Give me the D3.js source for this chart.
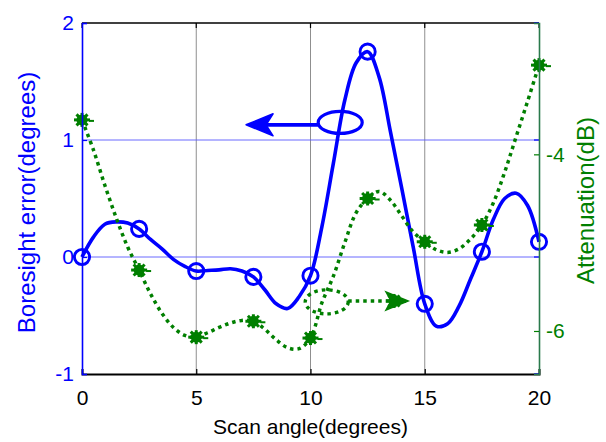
<!DOCTYPE html>
<html>
<head>
<meta charset="utf-8">
<script src="https://cdn.jsdelivr.net/npm/d3@7"></script>
<style>
  body { margin: 0; background: #fff; }
  svg { display: block; font-family: Arial, "Liberation Sans", sans-serif; }
</style>
</head>
<body>
<svg id="chart" width="606" height="442"></svg>
<script>
// Scan angle samples (degrees) for the two smooth curves
const scanAngle = [0,0.5,1,1.5,2,2.5,3,3.5,4,4.5,5,5.5,6,6.5,7,7.5,8,8.5,9,9.5,10,
                   10.5,11,11.5,12,12.5,13,13.5,14,14.5,15,15.5,16,16.5,17,17.5,18,18.5,19,19.5,20];
// Boresight error (degrees), left axis
const boresightError = [0,0.17,0.28,0.30,0.29,0.24,0.15,0.07,-0.02,-0.08,-0.12,-0.115,-0.11,-0.10,-0.12,-0.17,
                        -0.28,-0.40,-0.44,-0.34,-0.16,0.26,0.80,1.34,1.66,1.755,1.54,1.07,0.58,0.08,-0.40,
                        -0.59,-0.57,-0.42,-0.19,0.045,0.32,0.50,0.545,0.44,0.13];
// Attenuation (dB), right axis
const attenuationDb = [-3.61,-3.95,-4.35,-4.72,-5.05,-5.31,-5.58,-5.80,-5.96,-6.05,-6.07,-6.02,-5.96,-5.91,-5.88,-5.89,
                       -5.98,-6.10,-6.19,-6.20,-6.08,-5.68,-5.38,-5.00,-4.66,-4.50,-4.42,-4.52,-4.70,-4.88,-4.99,
                       -5.08,-5.11,-5.07,-4.96,-4.80,-4.55,-4.20,-3.80,-3.40,-2.99];
// Measured points (markers)
const markerAngle = [0,2.5,5,7.5,10,12.5,15,17.5,20];
const markerError = [0,0.24,-0.12,-0.17,-0.16,1.755,-0.40,0.045,0.13];
const markerAtten = [-3.61,-5.31,-6.07,-5.89,-6.08,-4.50,-4.99,-4.80,-2.99];

const xTicks = [0,5,10,15,20];
const errTicks = [-1,0,1,2];
const attTicks = [-6,-4];
const errDomain = [-1,2];
const attDomain = [-6.487,-2.513];

const BLUE = "#0000ff", GREEN = "#007f00", RAXIS = "#2a7a4c";

const svg = d3.select("#chart");
const L = 82, R = 539, T = 23, B = 374;

const x = d3.scaleLinear().domain([0,20]).range([L,R]);
const yL = d3.scaleLinear().domain(errDomain).range([B,T]);
const yR = d3.scaleLinear().domain(attDomain).range([B,T]);

// grid
const grid = svg.append("g");
grid.selectAll("line.v").data([5,10,15]).join("line")
  .attr("x1", d => x(d)).attr("x2", d => x(d)).attr("y1", T).attr("y2", B)
  .attr("stroke", "#8f8f8f").attr("stroke-width", 1);
grid.selectAll("line.h").data([0,1]).join("line")
  .attr("x1", L).attr("x2", R).attr("y1", d => yL(d)).attr("y2", d => yL(d))
  .attr("stroke", "#5a5aff").attr("stroke-width", 0.9);

// boresight error curve
const errLine = d3.line().x((d,i) => x(scanAngle[i])).y(d => yL(d)).curve(d3.curveCatmullRom);
svg.append("path").attr("d", errLine(boresightError))
  .attr("fill", "none").attr("stroke", BLUE).attr("stroke-width", 3.6).attr("stroke-linejoin", "round");
svg.append("g").selectAll("circle").data(markerError).join("circle")
  .attr("cx", (d,i) => x(markerAngle[i])).attr("cy", d => yL(d)).attr("r", 7.6)
  .attr("fill", "none").attr("stroke", BLUE).attr("stroke-width", 2.9);

// arrow pointing to the left axis
const eB = {x: 11.3, y: 1.15};
svg.append("ellipse").attr("cx", x(eB.x)).attr("cy", yL(eB.y)).attr("rx", 22).attr("ry", 11)
  .attr("fill", "none").attr("stroke", BLUE).attr("stroke-width", 3.2);
const tipB = {x: 7.18, y: 1.13};
svg.append("line").attr("x1", x(eB.x) - 22).attr("x2", x(tipB.x) + 10)
  .attr("y1", yL(tipB.y)).attr("y2", yL(tipB.y)).attr("stroke", BLUE).attr("stroke-width", 3.7);
{
  const tx = x(tipB.x), ty = yL(tipB.y);
  svg.append("path").attr("d", `M${tx},${ty} L${tx+27},${ty-11} L${tx+20},${ty} L${tx+27},${ty+11} Z`)
    .attr("fill", BLUE).attr("stroke", BLUE).attr("stroke-width", 1.5).attr("stroke-linejoin", "round");
}

// attenuation curve
const attLine = d3.line().x((d,i) => x(scanAngle[i])).y(d => yR(d)).curve(d3.curveCatmullRom);
svg.append("path").attr("d", attLine(attenuationDb))
  .attr("fill", "none").attr("stroke", GREEN).attr("stroke-width", 3.5).attr("stroke-dasharray", "3.5,4");

// star markers
const star = (g, cx, cy) => {
  const s = g.append("g").attr("transform", `translate(${cx},${cy})`);
  s.append("circle").attr("r", 5.5).attr("fill", GREEN);
  [[-8,0,8,0],[0,-7,0,7],[-5.5,-5.5,5.5,5.5],[-5.5,5.5,5.5,-5.5]].forEach(([a,b,c,d]) =>
    s.append("line").attr("x1", a).attr("y1", b).attr("x2", c).attr("y2", d)
      .attr("stroke", GREEN).attr("stroke-width", 3));
  s.append("line").attr("x1", 7).attr("x2", 12).attr("y1", 1).attr("y2", 1)
    .attr("stroke", GREEN).attr("stroke-width", 2);
};
const gm = svg.append("g");
markerAtten.forEach((d,i) => star(gm, x(markerAngle[i]), yR(d)));

// arrow pointing to the right axis
const eG = {x: 10.71, y: -5.67};
svg.append("ellipse").attr("cx", x(eG.x)).attr("cy", yR(eG.y)).attr("rx", 21.5).attr("ry", 12)
  .attr("fill", "none").attr("stroke", GREEN).attr("stroke-width", 3.4).attr("stroke-dasharray", "3.5,4");
const tipG = {x: 14.27, y: -5.66};
svg.append("line").attr("x1", x(eG.x) + 21.5).attr("x2", x(tipG.x) - 18)
  .attr("y1", yR(tipG.y)).attr("y2", yR(tipG.y))
  .attr("stroke", GREEN).attr("stroke-width", 3.4).attr("stroke-dasharray", "3.5,4");
{
  const tx = x(tipG.x), ty = yR(tipG.y);
  svg.append("path").attr("d", `M${tx},${ty} L${tx-22},${ty-9} L${tx-17},${ty} L${tx-22},${ty+9} Z`)
    .attr("fill", GREEN).attr("stroke", GREEN).attr("stroke-width", 1.5);
  star(svg, tx - 14, ty);
}

// frame: top and bottom
svg.append("line").attr("x1", L).attr("x2", R).attr("y1", T).attr("y2", T)
  .attr("stroke", "#000").attr("stroke-width", 1.6);
svg.append("g").selectAll("line").data(xTicks).join("line")
  .attr("x1", d => x(d)).attr("x2", d => x(d)).attr("y1", T).attr("y2", T + 5)
  .attr("stroke", "#000").attr("stroke-width", 1.2);

// bottom axis
const ax = svg.append("g").attr("transform", `translate(0,${B})`)
  .call(d3.axisBottom(x).tickValues(xTicks).tickSize(-5).tickPadding(16).tickFormat(d => String(d)));
ax.select(".domain").attr("stroke", "#000").attr("stroke-width", 2);
ax.selectAll(".tick line").attr("stroke", "#000").attr("stroke-width", 1.2);
ax.selectAll("text").attr("fill", "#000").attr("font-size", 21).attr("font-family", "Arial, 'Liberation Sans', sans-serif");

// left axis
const ay = svg.append("g").attr("transform", `translate(${L},0)`)
  .call(d3.axisLeft(yL).tickValues(errTicks).tickSize(-5).tickPadding(8).tickFormat(d => String(d)));
ay.select(".domain").attr("stroke", BLUE).attr("stroke-width", 1.6);
ay.selectAll(".tick line").attr("stroke", BLUE).attr("stroke-width", 1.2);
ay.selectAll("text").attr("fill", BLUE).attr("font-size", 21).attr("font-family", "Arial, 'Liberation Sans', sans-serif");

// mirrored left ticks on the right edge
svg.append("g").selectAll("line").data(errTicks).join("line")
  .attr("x1", R - 5).attr("x2", R).attr("y1", d => yL(d)).attr("y2", d => yL(d))
  .attr("stroke", BLUE).attr("stroke-width", 1.2);

// right axis
const ar = svg.append("g").attr("transform", `translate(${R},0)`)
  .call(d3.axisRight(yR).tickValues(attTicks).tickSize(-5).tickPadding(7).tickFormat(d => String(d)));
ar.select(".domain").attr("stroke", RAXIS).attr("stroke-width", 1.6);
ar.selectAll(".tick line").attr("stroke", GREEN).attr("stroke-width", 1.2);
ar.selectAll("text").attr("fill", GREEN).attr("font-size", 21).attr("font-family", "Arial, 'Liberation Sans', sans-serif");

// titles
svg.append("text").attr("x", (L + R) / 2).attr("y", 434).attr("text-anchor", "middle")
  .attr("font-size", 21).attr("fill", "#000").text("Scan angle(degrees)");
svg.append("text").attr("transform", `translate(35,${(T + B) / 2 + 4}) rotate(-90)`)
  .attr("text-anchor", "middle").attr("font-size", 24).attr("fill", BLUE).text("Boresight error(degrees)");
svg.append("text").attr("transform", `translate(594,${(T + B) / 2 + 2}) rotate(-90)`)
  .attr("text-anchor", "middle").attr("font-size", 24).attr("fill", GREEN).text("Attenuation(dB)");
</script>
</body>
</html>
